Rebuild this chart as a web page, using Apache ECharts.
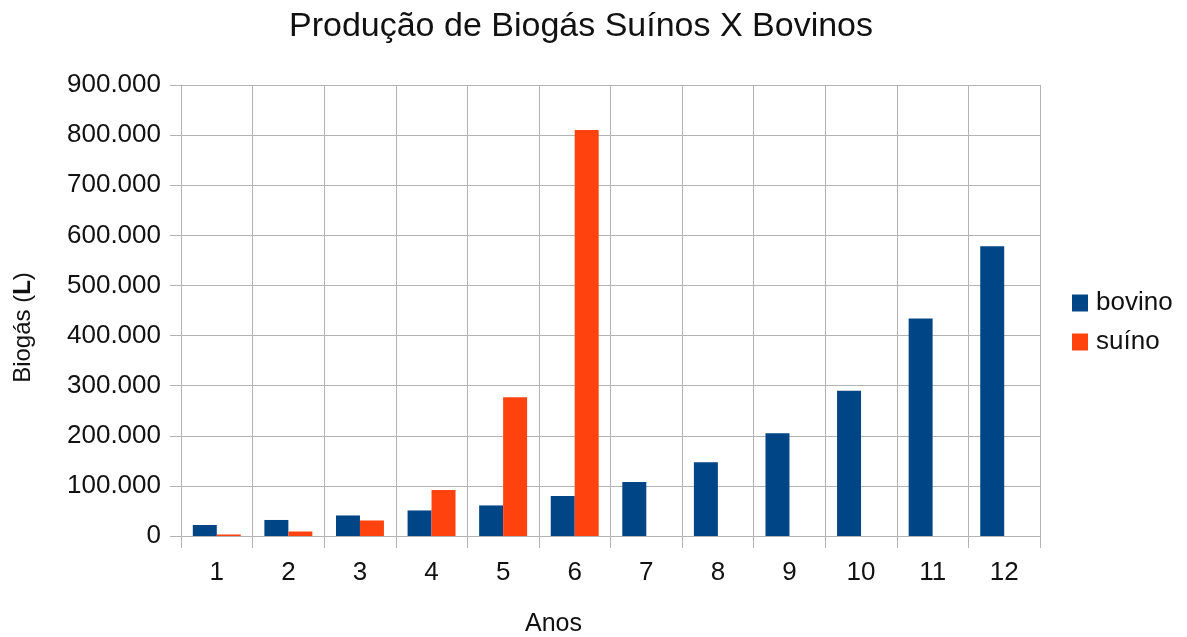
<!DOCTYPE html>
<html>
<head>
<meta charset="utf-8">
<script src="https://cdn.jsdelivr.net/npm/echarts@6/dist/echarts.min.js"></script>
<style>
  html, body { margin: 0; padding: 0; background: #fff; }
  #chart { width: 1187px; height: 637px; }
</style>
</head>
<body>
<div id="chart"></div>
<script>
// Years (categories) and biogas production per herd type, in litres
const anos = ['1', '2', '3', '4', '5', '6', '7', '8', '9', '10', '11', '12'];
const bovino = [22000, 32000, 41000, 51000, 61000, 80000, 108000, 147000, 205000, 290000, 434000, 578000];
const suino = [3000, 9000, 31000, 92000, 277000, 810000, null, null, null, null, null, null];
const yTicks = { min: 0, max: 900000, interval: 100000 };

const FONT = 'Liberation Sans';
const gridColor = '#b3b3b3';
const textColor = '#111';

// Thousands grouped with a dot, e.g. 900.000
function fmt(v) {
  return String(v).replace(/\B(?=(\d{3})+(?!\d))/g, '.');
}

const chart = echarts.init(document.getElementById('chart'));
chart.setOption({
  animation: false,
  textStyle: { fontFamily: FONT },
  title: {
    text: 'Produção de Biogás Suínos X Bovinos',
    left: 576,
    textAlign: 'center',
    top: 5,
    textStyle: { fontFamily: FONT, fontSize: 34, fontWeight: 'normal', color: textColor }
  },
  legend: {
    orient: 'vertical',
    left: 1067,
    top: 285,
    itemWidth: 16,
    itemHeight: 17,
    itemGap: 13,
    icon: 'rect',
    textStyle: { fontFamily: FONT, fontSize: 26, color: textColor, padding: [0, 0, 0, 3] },
    data: ['bovino', 'suíno']
  },
  grid: { left: 181, right: 147, top: 85, bottom: 101, containLabel: false, outerBoundsMode: 'none' },
  xAxis: {
    type: 'category',
    data: anos,
    name: 'Anos',
    nameLocation: 'middle',
    nameGap: 76,
    nameTextStyle: { fontFamily: FONT, fontSize: 25, color: textColor, padding: [0, 114, 0, 0] },
    axisLine: { lineStyle: { color: gridColor, width: 1 } },
    axisTick: { show: true, length: 12, lineStyle: { color: gridColor } },
    axisLabel: { fontFamily: FONT, fontSize: 26, color: textColor, margin: 24 },
    splitLine: { show: true, lineStyle: { color: gridColor, width: 1 } }
  },
  yAxis: {
    type: 'value',
    min: yTicks.min,
    max: yTicks.max,
    interval: yTicks.interval,
    name: '{a|Biogás (}{b|L}{a|)}',
    nameLocation: 'middle',
    nameRotate: 90,
    nameGap: 146,
    nameTextStyle: {
      padding: [0, 34, 0, 0],
      rich: {
        a: { fontFamily: FONT, fontSize: 24, color: textColor },
        b: { fontFamily: FONT, fontSize: 24, color: textColor, fontWeight: 'bold' }
      }
    },
    axisLine: { show: true, lineStyle: { color: gridColor, width: 1 } },
    axisTick: { show: true, length: 11, lineStyle: { color: gridColor } },
    axisLabel: { fontFamily: FONT, fontSize: 26, color: textColor, margin: 20, formatter: fmt },
    splitLine: { show: true, lineStyle: { color: gridColor, width: 1 } }
  },
  series: [
    {
      name: 'bovino',
      type: 'bar',
      data: bovino,
      barGap: '0%',
      barCategoryGap: '33%',
      itemStyle: { color: '#004586' }
    },
    {
      name: 'suíno',
      type: 'bar',
      data: suino,
      itemStyle: { color: '#ff420e' }
    }
  ]
});
</script>
</body>
</html>
